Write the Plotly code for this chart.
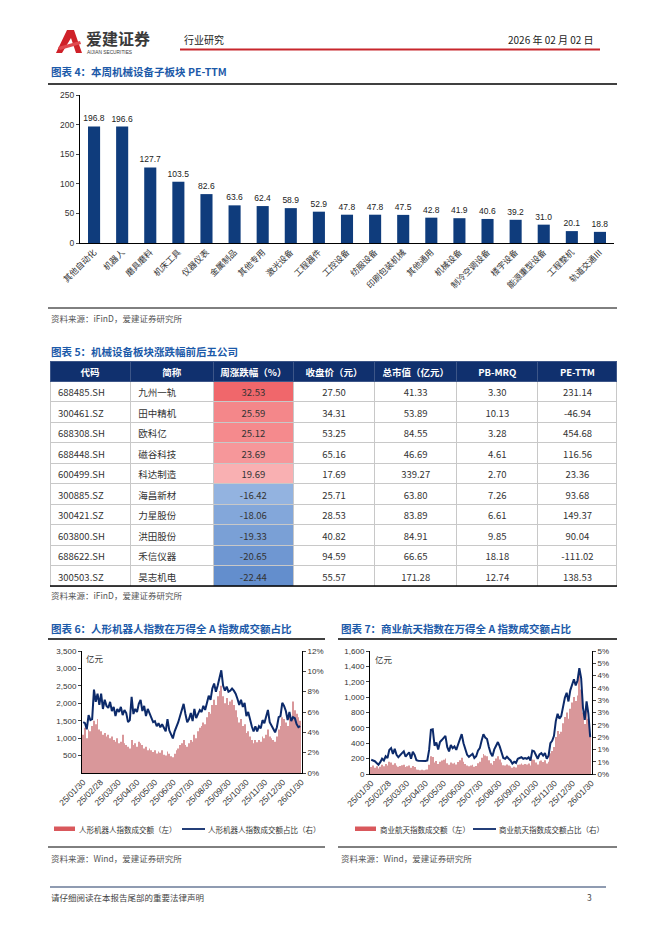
import plotly.graph_objects as go
import pandas as pd

W, H = 662, 936
def X(p): return p / W
def Y(p): return 1 - p / H

FONT = "Noto Sans CJK SC"
NUMF = "Liberation Sans, Noto Sans CJK SC"

# ---------------- data ----------------
pe_cats = ["其他自动化", "机器人", "磨具磨料", "机床工具", "仪器仪表", "金属制品", "其他专用",
           "激光设备", "工程器件", "工控设备", "纺服设备", "印刷包装机械", "其他通用", "机械设备",
           "制冷空调设备", "楼宇设备", "能源重型设备", "工程整机", "轨道交通Ⅲ"]
pe_vals = [196.8, 196.6, 127.7, 103.5, 82.6, 63.6, 62.4, 58.9, 52.9, 47.8,
           47.8, 47.5, 42.8, 41.9, 40.6, 39.2, 31.0, 20.1, 18.8]

tbl_header = ["代码", "简称", "周涨跌幅（%）", "收盘价（元）", "总市值（亿元）", "PB-MRQ", "PE-TTM"]
codes = ["688485.SH", "300461.SZ", "688308.SH", "688448.SH", "600499.SH",
         "300885.SZ", "300421.SZ", "603800.SH", "688622.SH", "300503.SZ"]
names = ["九州一轨", "田中精机", "欧科亿", "磁谷科技", "科达制造",
         "海昌新材", "力星股份", "洪田股份", "禾信仪器", "昊志机电"]
chg = [32.53, 25.59, 25.12, 23.69, 19.69, -16.42, -18.06, -19.33, -20.65, -22.44]
close = [27.50, 34.31, 53.25, 65.16, 17.69, 25.71, 28.53, 40.82, 94.59, 55.57]
mcap = [41.33, 53.89, 84.55, 46.69, 339.27, 63.80, 83.89, 84.91, 66.65, 171.28]
pb = [3.30, 10.13, 3.28, 4.61, 2.70, 7.26, 6.61, 9.85, 18.18, 12.74]
pe = [231.14, -46.94, 454.68, 116.56, 23.36, 93.68, 149.37, 90.04, -111.02, 138.53]

dates = pd.date_range("2025-01-30", periods=122, freq="3D")
tick_dates = ["2025-01-30", "2025-02-28", "2025-03-30", "2025-04-30", "2025-05-30", "2025-06-30",
              "2025-07-30", "2025-08-30", "2025-09-30", "2025-10-30", "2025-11-30", "2025-12-30",
              "2026-01-30"]
tick_text = ["25/01/30", "25/02/28", "25/03/30", "25/04/30", "25/05/30", "25/06/30", "25/07/30",
             "25/08/30", "25/09/30", "25/10/30", "25/11/30", "25/12/30", "26/01/30"]

robot_amt = [1100, 1300, 1000, 1250, 1200, 1350, 1500, 1400, 1550, 1250,
             1200, 1100, 1150, 1050, 1100, 1000, 1050, 950, 900, 1000,
             850, 900, 1100, 850, 800, 750, 700, 950, 800, 850,
             750, 900, 850, 800, 700, 750, 650, 700, 650, 600,
             650, 560, 620, 580, 650, 520, 500, 620, 550, 480,
             450, 550, 650, 700, 800, 850, 950, 800, 750, 850,
             950, 900, 1100, 1000, 1200, 1300, 1350, 1450, 1400, 1600,
             1750, 1700, 1950, 2100, 1950, 2200, 2350, 2500, 2200, 2000,
             2150, 1950, 2050, 2100, 1950, 1800, 1600, 1450, 1550, 1350,
             1400, 1150, 1200, 1050, 950, 850, 950, 880, 950, 900,
             1050, 1000, 1100, 1250, 1050, 1000, 950, 900, 1050, 1250,
             1350, 1600, 1550, 1450, 1350, 1700, 1600, 2050, 1800, 1700,
             1600, 1500]
robot_ratio = [5.0, 4.9, 4.3, 5.7, 5.2, 5.3, 8.2, 7.0, 7.8, 6.7,
               7.8, 6.3, 7.2, 6.6, 6.4, 7.0, 6.1, 6.5, 5.6, 6.3,
               6.0, 6.5, 5.7, 6.2, 5.9, 5.0, 5.2, 7.5, 5.8, 6.3,
               6.0, 6.8, 7.2, 6.1, 6.6, 5.6, 6.3, 5.8, 5.3, 5.0,
               5.1, 4.6, 4.9, 4.5, 4.8, 4.4, 4.1, 5.3, 4.2, 3.8,
               3.4, 4.1, 4.5, 5.0, 5.6, 6.1, 6.8, 5.8, 5.0, 5.3,
               5.9, 5.1, 6.3, 5.4, 5.9, 6.2, 6.0, 6.6, 6.2, 7.0,
               7.6, 7.2, 8.3, 8.8, 8.0, 8.6, 9.3, 10.1, 8.6, 8.1,
               8.5, 8.0, 8.1, 8.3, 8.1, 7.8, 7.3, 6.7, 7.2, 6.5,
               6.9, 5.6, 6.0, 5.2, 4.6, 4.1, 4.6, 4.1, 4.6, 4.4,
               5.2, 4.9, 5.5, 6.2, 5.0, 4.7, 4.3, 4.0, 4.5, 5.5,
               5.6, 6.9, 6.6, 6.1, 5.2, 6.0, 5.1, 5.5, 5.4, 4.8,
               4.5, 4.6]
space_amt = [90, 110, 80, 100, 70, 95, 120, 100, 130, 110,
             160, 150, 120, 140, 110, 95, 105, 115, 120, 90,
             100, 110, 80, 105, 90, 60, 55, 50, 55, 50,
             55, 60, 120, 230, 220, 150, 170, 130, 160, 175,
             185, 200, 140, 120, 150, 135, 145, 125, 155, 180,
             210, 160, 130, 110, 100, 110, 120, 95, 105, 140,
             160, 210, 260, 240, 230, 180, 140, 120, 170, 200,
             230, 190, 150, 115, 110, 125, 110, 100, 80, 95,
             85, 120, 125, 135, 120, 130, 125, 135, 110, 190,
             185, 150, 125, 165, 175, 155, 180, 135, 160, 270,
             300, 350, 480, 560, 520, 550, 660, 740, 800, 720,
             850, 930, 1000, 950, 1020, 1300, 1100, 800, 650, 880,
             720, 480]
space_ratio = [0.58, 0.55, 0.52, 0.45, 0.38, 0.48, 0.62, 0.55, 0.72, 0.65,
               0.98, 1.05, 0.82, 1.02, 0.78, 0.68, 0.78, 0.85, 0.92, 0.70,
               0.80, 0.88, 0.62, 0.90, 0.78, 0.56, 0.54, 0.53, 0.54, 0.52,
               0.53, 0.55, 0.98, 1.80, 1.82, 1.15, 1.28, 1.00, 1.30, 1.38,
               1.45, 1.55, 1.10, 0.92, 1.18, 1.05, 1.12, 0.98, 1.20, 1.40,
               1.62, 1.25, 0.98, 0.78, 0.70, 0.78, 0.82, 0.65, 0.72, 0.95,
               1.05, 1.35, 1.62, 1.48, 1.42, 1.10, 0.85, 0.72, 1.00, 1.15,
               1.30, 1.12, 0.85, 0.65, 0.62, 0.70, 0.62, 0.55, 0.42, 0.50,
               0.45, 0.62, 0.65, 0.68, 0.62, 0.65, 0.62, 0.68, 0.55, 0.95,
               0.92, 0.75, 0.62, 0.80, 0.85, 0.75, 0.85, 0.62, 0.75, 1.25,
               1.35, 1.55, 2.15, 2.45, 2.25, 2.35, 2.80, 3.10, 3.30, 2.95,
               3.40, 3.65, 3.85, 3.60, 3.80, 4.30, 3.90, 2.70, 2.20, 2.95,
               2.45, 1.50]

robot_right_vals = [0, 2, 4, 6, 8, 10, 12]
robot_right_text = ["0%", "2%", "4%", "6%", "8%", "10%", "12%"]
space_right_vals = [0, 0.5, 1.0, 1.5, 2.0, 2.5, 3.0, 3.5, 4.0, 4.5, 5.0]
space_right_text = ["0%", "1%", "1%", "2%", "2%", "3%", "3%", "4%", "4%", "5%", "5%"]

# ---------------- styles ----------------
NAVY = "#0f3c7c"
LINE_NAVY = "#0c2a6a"
BAR_PINK = "#d9979a"
LEG_RED = "#d9585c"
TITLE_BLUE = "#1c5aa9"
TXT = "#333333"
HEAD_NAVY = "#10306e"
chg_colors = ["#f0676b", "#f4878a", "#f58a8d", "#f6979a", "#f9b0b2",
              "#93b3e0", "#83a7da", "#7aa0d6", "#6f97d2", "#638ecd"]

fig = go.Figure()

# ---- chart 4: bars ----
fig.add_trace(go.Bar(
    x=pe_cats, y=pe_vals, marker_color=NAVY, width=0.43,
    text=[f"{v:.1f}" for v in pe_vals], textposition="outside", constraintext="none",
    textfont=dict(size=8.5, color="#222", family=NUMF), cliponaxis=False,
    xaxis="x", yaxis="y", showlegend=False, hoverinfo="skip"))

# ---- chart 5: table ----
white = ["white"] * len(codes)
fig.add_trace(go.Table(
    domain=dict(x=[X(50), X(617)], y=[Y(598), Y(361)]),
    columnwidth=[80, 83, 80, 81, 82, 81, 79],
    header=dict(values=tbl_header, fill_color=HEAD_NAVY,
                line_color="#3d5688", align="center", height=20,
                font=dict(color="white", size=9.5, family=FONT, weight="bold")),
    cells=dict(values=[codes, names, [f"{v:.2f}" for v in chg], [f"{v:.2f}" for v in close],
                       [f"{v:.2f}" for v in mcap], [f"{v:.2f}" for v in pb], [f"{v:.2f}" for v in pe]],
               fill_color=[white, white, chg_colors, white, white, white, white],
               line_color="#c8c8c8", align=["left", "left", "center", "center", "center", "center", "center"],
               height=20.5, font=dict(color=TXT, size=9.5, family=FONT))))

# ---- chart 6 ----
fig.add_trace(go.Bar(x=dates, y=robot_amt, marker_color=BAR_PINK, xaxis="x2", yaxis="y2",
                     showlegend=False, hoverinfo="skip"))
fig.add_trace(go.Scatter(x=dates, y=robot_ratio, mode="lines", line=dict(color=LINE_NAVY, width=2),
                         xaxis="x2", yaxis="y3", showlegend=False, hoverinfo="skip"))
# ---- chart 7 ----
fig.add_trace(go.Bar(x=dates, y=space_amt, marker_color=BAR_PINK, xaxis="x3", yaxis="y4",
                     showlegend=False, hoverinfo="skip"))
fig.add_trace(go.Scatter(x=dates, y=space_ratio, mode="lines", line=dict(color=LINE_NAVY, width=2),
                         xaxis="x3", yaxis="y5", showlegend=False, hoverinfo="skip"))

axfont = dict(size=8.5, color=TXT, family=NUMF)
smfont = dict(size=8, color=TXT, family=NUMF)
datefont = dict(size=8.5, color=TXT, family=NUMF)
common = dict(showgrid=False, zeroline=False, showline=True, linecolor="black", linewidth=1,
              automargin=False)
date_range = ["2025-01-28", "2026-01-31"]

fig.update_layout(
    template="none",
    width=W, height=H, margin=dict(l=0, r=0, t=0, b=0, pad=0, autoexpand=False),
    paper_bgcolor="white", plot_bgcolor="white", bargap=0.55, showlegend=False,
    xaxis=dict(domain=[X(80), X(614)], anchor="y", range=[-0.5, 18.5], tickangle=-45,
               tickfont=dict(size=8.5, color=TXT, family=FONT), ticks="", **common),
    yaxis=dict(domain=[Y(243), Y(95)], anchor="x", range=[0, 250], dtick=50, ticks="outside",
               ticklen=3, tickfont=axfont, **common),
    xaxis2=dict(domain=[X(82), X(302)], anchor="y2", type="date", range=date_range,
                tickvals=tick_dates, ticktext=tick_text, tickangle=-45, ticks="",
                tickfont=datefont, **common),
    yaxis2=dict(domain=[Y(773), Y(651)], anchor="x2", range=[0, 3500],
                tickvals=[500, 1000, 1500, 2000, 2500, 3000, 3500], tickformat=",",
                ticks="outside", ticklen=3, tickfont=smfont, **common),
    yaxis3=dict(overlaying="y2", anchor="x2", side="right", range=[0, 12],
                tickvals=robot_right_vals, ticktext=robot_right_text, ticks="outside", ticklen=3,
                tickfont=smfont, **common),
    xaxis3=dict(domain=[X(370), X(592)], anchor="y4", type="date", range=date_range,
                tickvals=tick_dates, ticktext=tick_text, tickangle=-45, ticks="",
                tickfont=datefont, **common),
    yaxis4=dict(domain=[Y(774), Y(651)], anchor="x3", range=[0, 1600], dtick=200, tickformat=",",
                ticks="outside", ticklen=3, tickfont=smfont, **common),
    yaxis5=dict(overlaying="y4", anchor="x3", side="right", range=[0, 5],
                tickvals=space_right_vals, ticktext=space_right_text, ticks="outside", ticklen=3,
                tickfont=smfont, **common),
)

ann = []
shapes = []

def T(x, y, s, size=8.5, color=TXT, anchor="left", bold=False, family=FONT):
    ann.append(dict(x=X(x), y=Y(y), xref="paper", yref="paper",
                    text=f"<b>{s}</b>" if bold else s, showarrow=False,
                    xanchor=anchor, yanchor="middle", borderpad=0,
                    font=dict(size=size, color=color, family=family)))

def L(x0, x1, y, color="black", width=1):
    shapes.append(dict(type="line", xref="paper", yref="paper", x0=X(x0), x1=X(x1),
                       y0=Y(y), y1=Y(y), line=dict(color=color, width=width)))

def R(x0, x1, y0, y1, color):
    shapes.append(dict(type="rect", xref="paper", yref="paper", x0=X(x0), x1=X(x1),
                       y0=Y(y1), y1=Y(y0), line=dict(width=0), fillcolor=color))

def P(points, color):
    d = "M " + " L ".join(f"{X(a):.5f} {Y(b):.5f}" for a, b in points) + " Z"
    shapes.append(dict(type="path", xref="paper", yref="paper", path=d,
                       fillcolor=color, line=dict(width=0)))

# header
P([(56, 53), (67, 30), (74, 30), (82, 53), (76, 53), (71, 38), (62, 53)], "#cf2129")
P([(58, 47), (80, 41), (81, 44), (60, 50)], "#e0484e")
T(85, 38, "<b>爱建证券</b>", size=16, color="#3a3a3a")
T(86, 52, "AIJIAN SECURITIES", size=4.8, color="#3a3a3a", family=NUMF)
T(183, 40, "行业研究", size=10, color="#222")
T(595, 40, "2026 年 02 月 02 日", size=10, color="#222", anchor="right")
L(180, 600, 49.5, color="#c8262c", width=2.2)

# chart 4
T(50, 72, "图表 4：本周机械设备子板块 PE-TTM", size=10.5, color=TITLE_BLUE, bold=True)
L(48, 617, 84, width=1.3)
L(48, 617, 308, width=1)
T(50, 318, "资料来源：iFinD，爱建证券研究所", size=8.5, color="#555")

# chart 5
T(50, 351, "图表 5：机械设备板块涨跌幅前后五公司", size=10.5, color=TITLE_BLUE, bold=True)
L(50, 617, 586, width=1.5)
T(50, 595, "资料来源：iFinD，爱建证券研究所", size=8.5, color="#555")

# chart 6 / 7 titles
T(50, 628, "图表 6：人形机器人指数在万得全 A 指数成交额占比", size=10.5, color=TITLE_BLUE, bold=True)
T(340, 628, "图表 7：商业航天指数在万得全 A 指数成交额占比", size=10.5, color=TITLE_BLUE, bold=True)
L(48, 325, 639, width=1.3)
L(338, 617, 639, width=1.3)
T(85, 658, "亿元", size=8.5)
T(374, 659, "亿元", size=8.5)

# legends
R(54, 75, 826.5, 831, LEG_RED)
T(78, 829, "人形机器人指数成交额（左）", size=7.5)
L(182, 205, 829, color=LINE_NAVY, width=1.8)
T(207, 829, "人形机器人指数成交额占比（右）", size=7.5)
R(355, 376, 826.5, 831, LEG_RED)
T(379, 829, "商业航天指数成交额（左）", size=7.5)
L(473, 496, 829, color=LINE_NAVY, width=1.8)
T(498, 829, "商业航天指数成交额占比（右）", size=7.5)

L(48, 325, 847, width=1)
L(338, 617, 847, width=1)
T(50, 858, "资料来源：Wind，爱建证券研究所", size=8.5, color="#555")
T(340, 858, "资料来源：Wind，爱建证券研究所", size=8.5, color="#555")

# footer
L(50, 606, 887, color="#203864", width=1.2)
T(50, 897, "请仔细阅读在本报告尾部的重要法律声明", size=8.5, color="#444")
T(593, 897, "3", size=8.5, color="#444", anchor="right")

fig.update_layout(annotations=ann, shapes=shapes)
fig.write_html("out.html", config={"displayModeBar": False},
               post_script="document.body.style.margin='0px';")
